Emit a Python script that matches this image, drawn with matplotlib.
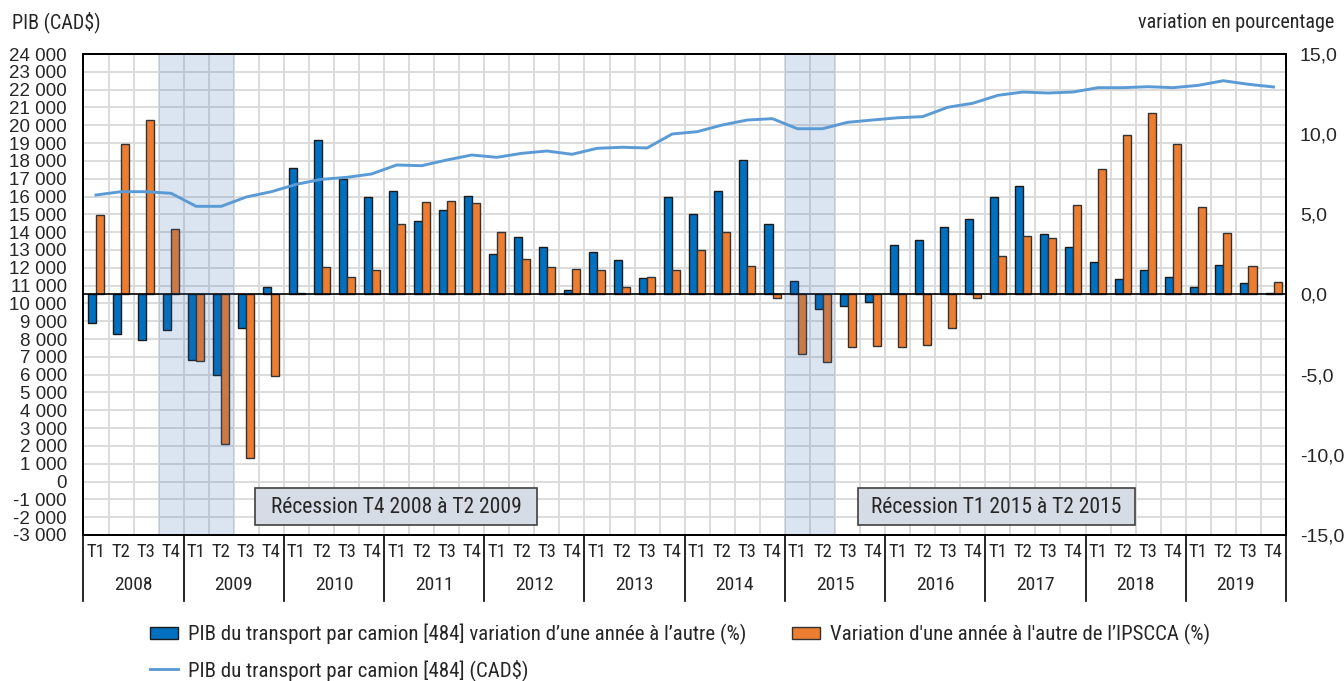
import matplotlib
matplotlib.use("Agg")
import matplotlib.pyplot as plt
import matplotlib.transforms as mtransforms
from matplotlib.patches import Patch, Rectangle
from matplotlib.lines import Line2D
from matplotlib.ticker import FuncFormatter, FixedLocator
import numpy as np

plt.rcParams["font.family"] = ["Roboto Condensed", "DejaVu Sans"]
NUMFONT = ["Liberation Sans", "DejaVu Sans"]

# ---------------------------------------------------------------------------
# Data
years = ["2008", "2009", "2010", "2011", "2012", "2013",
         "2014", "2015", "2016", "2017", "2018", "2019"]
quarters = ["T1", "T2", "T3", "T4"]

# PIB du transport par camion [484] variation d'une année à l'autre (%)
gdp_yoy = [-1.80, -2.46, -2.84, -2.24,
           -4.09, -5.02, -2.07, 0.45,
           7.91, 9.64, 7.18, 6.06,
           6.48, 4.57, 5.26, 6.16,
           2.55, 3.61, 2.94, 0.26,
           2.65, 2.13, 1.05, 6.10,
           5.00, 6.46, 8.37, 4.42,
           0.84, -0.90, -0.74, -0.49,
           3.07, 3.42, 4.21, 4.69,
           6.10, 6.77, 3.77, 2.98,
           2.01, 0.95, 1.55, 1.11,
           0.45, 1.86, 0.70, 0.07]

# Variation d'une année à l'autre de l'IPSCCA (%)
ipscca_yoy = [4.96, 9.39, 10.88, 4.10,
              -4.15, -9.33, -10.18, -5.06,
              0.10, 1.73, 1.11, 1.51,
              4.38, 5.79, 5.85, 5.73,
              3.88, 2.24, 1.74, 1.61,
              1.51, 0.49, 1.09, 1.51,
              2.76, 3.90, 1.78, -0.20,
              -3.73, -4.21, -3.30, -3.23,
              -3.28, -3.17, -2.07, -0.24,
              2.38, 3.63, 3.52, 5.56,
              7.83, 9.93, 11.32, 9.37,
              5.46, 3.84, 1.80, 0.76]

# PIB du transport par camion [484] (CAD$)
gdp_level = [16085, 16270, 16270, 16180,
             15450, 15450, 15975, 16270,
             16685, 16965, 17075, 17265,
             17770, 17730, 18050, 18330,
             18200, 18425, 18555, 18370,
             18705, 18765, 18725, 19510,
             19640, 20015, 20295, 20370,
             19805, 19805, 20165, 20295,
             20420, 20485, 21010, 21235,
             21680, 21865, 21810, 21865,
             22110, 22110, 22165, 22110,
             22240, 22500, 22300, 22150]

# recessions as (first quarter index, last quarter index, label)
recessions = [(3, 5, "Récession T4 2008 à T2 2009"),
              (28, 29, "Récession T1 2015 à T2 2015")]

label_blue = "PIB du transport par camion [484] variation d\u2019une année à l\u2019autre (%)"
label_orange = "Variation d'une année à l'autre de l\u2019IPSCCA (%)"
label_line = "PIB du transport par camion [484] (CAD$)"

BLUE = "#0070c0"
ORANGE = "#ed7d31"
LINE = "#5b9bd5"
GRID = "#d9d9d9"
TXT = "#262626"

# ---------------------------------------------------------------------------
n = len(gdp_yoy)
x = np.arange(n)

fig = plt.figure(figsize=(13.44, 6.81), dpi=100)
ax = fig.add_axes([0.0621, 0.2144, 0.8947, 0.7063])   # CAD$ scale, left ticks, grid
ax2 = ax.twinx()                                      # % scale, bars
ax3 = ax.twinx()                                      # CAD$ line on top

ax.set_xlim(-0.5, n - 0.5)
ax.set_ylim(-3000, 24000)
ax3.set_ylim(-3000, 24000)
ax2.set_ylim(-15, 15)

# grid
ax.yaxis.set_major_locator(FixedLocator(np.arange(-3000, 24001, 1000)))
ax.yaxis.set_major_formatter(FuncFormatter(lambda v, p: f"{v:,.0f}".replace(",", " ")))
for k in range(n + 1):
    ax.axvline(k - 0.5, color=GRID, lw=1.3, zorder=0)
ax.grid(axis="y", color=GRID, lw=1.3, zorder=0)
ax.set_axisbelow(True)

# bars
w = 0.32
ax2.bar(x - 0.155, gdp_yoy, w, color=BLUE, edgecolor="#1a1a1a", lw=1.0, zorder=2)
ax2.bar(x + 0.165, ipscca_yoy, w, color=ORANGE, edgecolor="#333333", lw=1.0, zorder=2)
ax2.axhline(0, color="black", lw=1.2, zorder=3)

# recession shading (over the bars) and boxes
blend = mtransforms.blended_transform_factory(ax.transData, ax.transAxes)
for i0, i1, txt in recessions:
    ax2.axvspan(i0 - 0.5, i1 + 0.5, color="#2e69b1", alpha=0.17, lw=0, zorder=4)
for (i0, i1, txt), (bx0, bx1) in zip(recessions, [(6.35, 17.6), (30.42, 41.48)]):
    ax2.add_patch(Rectangle((bx0, 0.02), bx1 - bx0, 0.077, transform=blend,
                            facecolor="#d6dce5", edgecolor="#404040", lw=1.2, zorder=5))
    ax2.text((bx0 + bx1) / 2, 0.058, txt, transform=blend, ha="center", va="center",
             fontsize=15.5, color=TXT, zorder=6)

# line
ax3.plot(x, gdp_level, color=LINE, lw=2.1, zorder=6, solid_joinstyle="round")
ax3.set_yticks([])

# right axis ticks
ax2.set_yticks(np.arange(-15, 16, 5))
ax2.yaxis.set_major_formatter(FuncFormatter(lambda v, p: f"{v:.1f}".replace(".", ",")))
ax2.tick_params(axis="y", length=0, pad=10, labelsize=14, labelcolor=TXT)
ax.tick_params(axis="y", length=0, pad=12, labelsize=13.5, labelcolor=TXT)
for lab in ax.get_yticklabels() + ax2.get_yticklabels():
    lab.set_fontfamily(NUMFONT)

# x axis: quarters + years
ax.set_xticks(x)
ax.set_xticklabels([q for _ in years for q in quarters])
ax.tick_params(axis="x", length=0, pad=6, labelsize=13.5, labelcolor=TXT)
for j, yr in enumerate(years):
    ax.text(4 * j + 1.5, -0.103, yr, transform=blend, ha="center", va="center",
            fontsize=14, color=TXT)
for j in range(len(years) + 1):
    ax.plot([4 * j - 0.5] * 2, [0, -0.137], transform=blend, color="black",
            lw=1.2, clip_on=False)

for a in (ax, ax2, ax3):
    for s in a.spines.values():
        s.set_color("black")
        s.set_linewidth(1.2)

# axis titles
fig.text(12 / 1344, 1 - 22 / 681, "PIB (CAD$)", ha="left", va="center",
         fontsize=14.5, color=TXT)
fig.text(1334 / 1344, 1 - 22 / 681, "variation en pourcentage", ha="right", va="center",
         fontsize=14.5, color=TXT)

# legend
handles = [Patch(facecolor=BLUE, edgecolor="#1a1a1a", lw=1.0),
           Line2D([], [], color=LINE, lw=2.1),
           Patch(facecolor=ORANGE, edgecolor="#333333", lw=1.0)]
fig.legend(handles, [label_blue, label_line, label_orange], ncol=2,
           loc="upper left", bbox_to_anchor=(150 / 1344, 1 - 624 / 681),
           frameon=False, fontsize=15, handlelength=1.35, handleheight=0.55,
           handletextpad=0.48, labelspacing=0.66, columnspacing=2.2,
           borderpad=0, borderaxespad=0, labelcolor=TXT)

fig.savefig("out.png", dpi=100)
